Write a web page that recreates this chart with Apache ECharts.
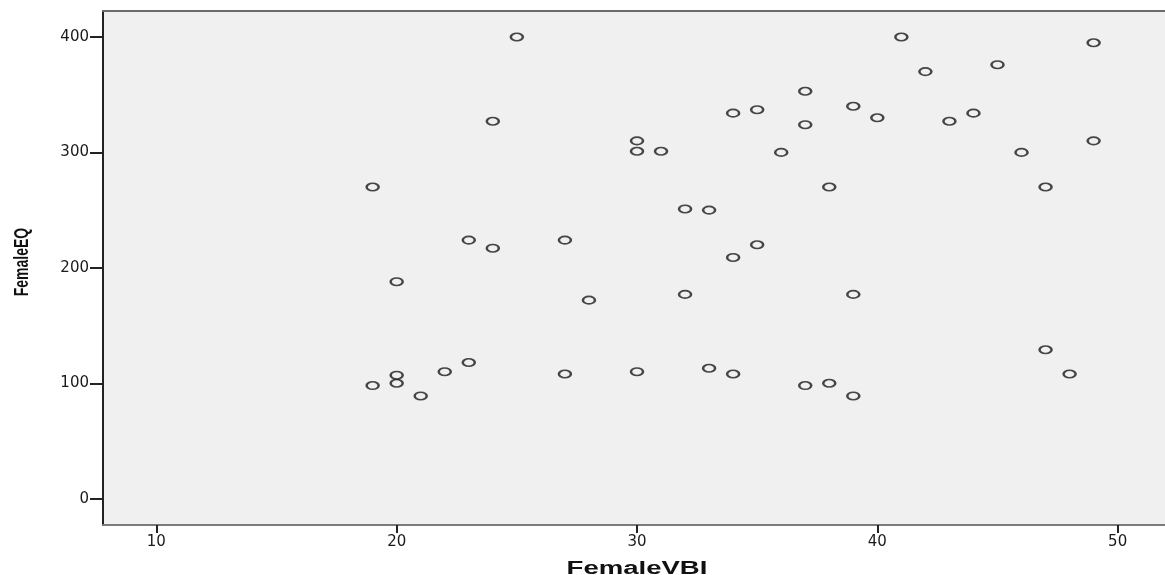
<!DOCTYPE html>
<html>
<head>
<meta charset="utf-8">
<script src="https://cdn.jsdelivr.net/npm/echarts@6/dist/echarts.min.js"></script>
<style>
html,body{margin:0;padding:0;background:#fff;}
#chart{width:1165px;height:575px;}
</style>
</head>
<body>
<div id="chart"></div>
<script>
// Data
const femaleVBI = [19,19,20,20,20,21,22,23,23,24,24,25,27,27,28,30,30,30,31,32,32,33,33,34,34,34,35,35,36,37,37,37,38,38,39,39,39,40,41,42,43,44,45,46,47,47,48,49,49];
const femaleEQ  = [270,98,188,107,100,89,110,224,118,327,217,400,224,108,172,310,301,110,301,251,177,250,113,334,209,108,337,220,300,353,324,98,270,100,340,177,89,330,400,370,327,334,376,300,270,129,108,395,310];
const xTicks = [10,20,30,40,50];
const yTicks = [0,100,200,300,400];
const xTitle = 'FemaleVBI';
const yTitle = 'FemaleEQ';

const points = femaleVBI.map((v, i) => [v, femaleEQ[i]]);

const chart = echarts.init(document.getElementById('chart'), null, {renderer: 'canvas'});
const labelStyle = {fontFamily: 'DejaVu Sans', fontSize: 15, color: '#1a1a1a'};
chart.setOption({
  animation: false,
  backgroundColor: '#ffffff',
  grid: {left: 103, right: 0, top: 11, bottom: 50, show: true, backgroundColor: '#f0f0f0', borderWidth: 0},
  xAxis: [{
    type: 'value', min: 7.78, max: 51.97,
    splitLine: {show: false},
    axisLine: {show: true, onZero: false, lineStyle: {color: '#7a7a7a', width: 2}},
    axisTick: {show: true, length: 8, lineStyle: {color: '#222', width: 2}, customValues: xTicks},
    axisLabel: Object.assign({margin: 10, customValues: xTicks}, labelStyle)
  }, {
    type: 'value', position: 'top', min: 7.78, max: 51.97,
    splitLine: {show: false},
    axisLine: {show: true, onZero: false, lineStyle: {color: '#6b6b6b', width: 2}},
    axisTick: {show: false}, axisLabel: {show: false}
  }],
  yAxis: {
    type: 'value', min: -22.8, max: 422.5,
    splitLine: {show: false},
    axisLine: {show: true, onZero: false, lineStyle: {color: '#222', width: 2}},
    axisTick: {show: true, length: 13, lineStyle: {color: '#222', width: 2}, customValues: yTicks},
    axisLabel: Object.assign({margin: 14, customValues: yTicks}, labelStyle)
  },
  graphic: [{
    type: 'text', x: 637, y: 569, scaleX: 1.53,
    style: {text: xTitle, font: 'bold 18px "Liberation Sans", Arial', fill: '#111', textAlign: 'center', textVerticalAlign: 'middle'}
  }, {
    type: 'text', x: 22, y: 262, rotation: Math.PI / 2, scaleY: 1.5,
    style: {text: yTitle, font: 'bold 14px "Liberation Sans", Arial', fill: '#111', textAlign: 'center', textVerticalAlign: 'middle'}
  }],
  series: [{
    type: 'scatter',
    data: points,
    symbol: 'circle',
    symbolSize: [12, 7.5],
    itemStyle: {color: 'rgba(0,0,0,0)', borderColor: '#1a1a1a', borderWidth: 2}
  }]
});
</script>
</body>
</html>
